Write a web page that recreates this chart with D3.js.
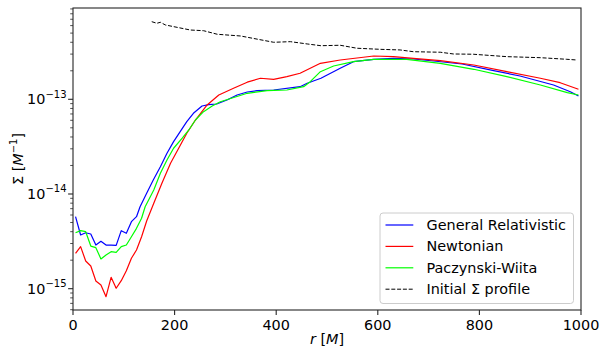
<!DOCTYPE html>
<html>
<head>
<meta charset="utf-8">
<script src="https://cdnjs.cloudflare.com/ajax/libs/d3/7.8.5/d3.min.js"></script>
<style>
  body { margin: 0; background: #fff; }
  svg { font-family: "DejaVu Sans", sans-serif; }
</style>
</head>
<body>
<svg id="chart" width="600" height="350"></svg>
<script>
// ####################################################################################
// Data
const rGR = [5,15,25,35,45,55,65,75,85,95,105,115,125,132,145,158,172,185,198,211,224,237,254,267,283,303,323,343,362,395,447,461,488,526,552,592,631,670,710,766,828,880,946,979,995];
const sigmaGR = [5.76e-15,3.69e-15,3.90e-15,3.78e-15,2.89e-15,3.17e-15,2.89e-15,2.88e-15,2.87e-15,4.10e-15,3.85e-15,5.10e-15,5.76e-15,7.34e-15,1.017e-14,1.405e-14,1.94e-14,2.69e-14,3.57e-14,4.55e-14,5.80e-14,7.12e-14,8.50e-14,8.77e-14,8.92e-14,9.83e-14,1.110e-13,1.194e-13,1.233e-13,1.254e-13,1.359e-13,1.476e-13,1.667e-13,2.126e-13,2.495e-13,2.645e-13,2.71e-13,2.665e-13,2.537e-13,2.36e-13,2.005e-13,1.762e-13,1.416e-13,1.203e-13,1.083e-13];

const rN = [5,15,25,35,45,55,65,75,85,95,105,115,125,135,145,159,175,192,208,224,241,264,287,316,343,369,395,421,447,487,526,592,631,670,723,789,854,920,959,995];
const sigmaN = [2.365e-15,2.78e-15,1.96e-15,1.736e-15,1.206e-15,1.094e-15,0.823e-15,1.319e-15,1.01e-15,1.215e-15,1.549e-15,2.094e-15,2.56e-15,3.54e-15,5.19e-15,7.98e-15,1.297e-14,2.11e-14,3.04e-14,4.38e-14,6.04e-14,8.71e-14,1.110e-13,1.307e-13,1.516e-13,1.667e-13,1.626e-13,1.733e-13,1.882e-13,2.40e-13,2.60e-13,2.865e-13,2.817e-13,2.71e-13,2.556e-13,2.302e-13,1.957e-13,1.667e-13,1.497e-13,1.275e-13];

const rPW = [5,15,25,35,45,55,65,75,85,95,105,115,125,135,142,159,172,185,198,215,228,241,257,274,290,343,382,421,454,467,487,513,552,592,657,723,789,854,920,973,995];
const sigmaPW = [3.90e-15,4.10e-15,4.00e-15,2.82e-15,2.71e-15,2.06e-15,2.27e-15,2.46e-15,2.42e-15,2.78e-15,2.89e-15,3.54e-15,4.34e-15,5.54e-15,7.34e-15,1.102e-14,1.654e-14,2.286e-14,3.04e-14,3.88e-14,4.74e-14,6.04e-14,7.40e-14,8.50e-14,9.43e-14,1.157e-13,1.233e-13,1.254e-13,1.359e-13,1.534e-13,1.957e-13,2.247e-13,2.495e-13,2.645e-13,2.645e-13,2.40e-13,2.074e-13,1.733e-13,1.416e-13,1.174e-13,1.110e-13];

const rInit = [155,165,172,182,231,257,284,330,395,428,461,488,526,559,605,644,670,723,749,788,854,920,972,992];
const sigmaInit = [6.60e-13,6.35e-13,6.50e-13,6.09e-13,5.39e-13,5.30e-13,4.86e-13,4.66e-13,4.00e-13,4.06e-13,3.84e-13,3.68e-13,3.72e-13,3.46e-13,3.37e-13,3.32e-13,3.18e-13,3.14e-13,3.01e-13,2.99e-13,2.82e-13,2.75e-13,2.645e-13,2.60e-13];

const xTicks = [0,200,400,600,800,1000];
const yTickExp = [-15,-14,-13];

const seriesNames = ["General Relativistic","Newtonian","Paczynski-Wiita","Initial \u03a3 profile"];
const seriesColors = ["#0000ff","#ff0000","#00ff00","#000000"];

// ####################################################################################
// Layout
const chartDim = {left: 73, top: 8, width: 508, height: 302};
const fs = 14.4;
const fsSup = 10;

const svg = d3.select("#chart");
const g = svg.append("g").attr("transform", `translate(${chartDim.left},${chartDim.top})`);

const xScale = d3.scaleLinear().domain([0,1000]).range([0, chartDim.width]);
const yScale = d3.scaleLog().domain([Math.pow(10,-15.225), Math.pow(10,-12.036)]).range([chartDim.height, 0]);

// clip for lines
svg.append("defs").append("clipPath").attr("id","clip")
  .append("rect").attr("width", chartDim.width).attr("height", chartDim.height);

// ####################################################################################
// Lines
const line = d3.line().x(d => xScale(d[0])).y(d => yScale(d[1]));
const zipSeries = (rs, vs) => rs.map((r,i) => [r, vs[i]]);

const seriesData = [
  zipSeries(rGR, sigmaGR),
  zipSeries(rN, sigmaN),
  zipSeries(rPW, sigmaPW),
  zipSeries(rInit, sigmaInit)
];

const lines = g.append("g").attr("clip-path","url(#clip)");
seriesData.forEach((s,i) => {
  lines.append("path")
    .datum(s)
    .attr("d", line)
    .attr("fill","none")
    .attr("stroke", seriesColors[i])
    .attr("stroke-width", i === 3 ? 1.0 : 1.2)
    .attr("stroke-dasharray", i === 3 ? "4,1.8" : null)
    .attr("stroke-linejoin","round");
});

// ####################################################################################
// Axes
const spineColor = "#262626";

// x ticks
const xAx = g.append("g").attr("transform", `translate(0,${chartDim.height})`);
xTicks.forEach(t => {
  xAx.append("line").attr("x1", xScale(t)).attr("x2", xScale(t)).attr("y1",0).attr("y2",4.9)
    .attr("stroke", spineColor).attr("stroke-width",1.1);
  xAx.append("text").attr("x", xScale(t)).attr("y", 4.9 + 4.5 + 11)
    .attr("text-anchor","middle").style("font-size", fs + "px").attr("fill","#000").text(t);
});

// y major ticks
const yAx = g.append("g");
yTickExp.forEach(e => {
  const y = yScale(Math.pow(10,e));
  yAx.append("line").attr("x1",-4.9).attr("x2",0).attr("y1",y).attr("y2",y)
    .attr("stroke", spineColor).attr("stroke-width",1.1);
  const txt = yAx.append("text").attr("x",-6.5).attr("y", y + 5.2)
    .attr("text-anchor","end").style("font-size", fs + "px").attr("fill","#000");
  txt.append("tspan").text("10");
  txt.append("tspan").attr("dy",-6.8).style("font-size", fsSup + "px").text("\u2212" + Math.abs(e));
});

// y minor ticks
[-16,-15,-14,-13,-12].forEach(e => {
  d3.range(2,10).forEach(m => {
    const v = m * Math.pow(10,e);
    if (v < yScale.domain()[0] || v > yScale.domain()[1]) return;
    const y = yScale(v);
    yAx.append("line").attr("x1",-2.8).attr("x2",0).attr("y1",y).attr("y2",y)
      .attr("stroke", spineColor).attr("stroke-width",0.8);
  });
});

// frame
g.append("rect").attr("width", chartDim.width).attr("height", chartDim.height)
  .attr("fill","none").attr("stroke", spineColor).attr("stroke-width",1.1);

// axis labels
const xLab = svg.append("text")
  .attr("x", chartDim.left + chartDim.width/2).attr("y", 344)
  .attr("text-anchor","middle").style("font-size", fs + "px");
xLab.append("tspan").style("font-style","italic").text("r");
xLab.append("tspan").text(" [");
xLab.append("tspan").style("font-style","italic").text("M");
xLab.append("tspan").text("]");

const yLab = svg.append("text")
  .attr("transform", `translate(23,${chartDim.top + chartDim.height/2}) rotate(-90)`)
  .attr("text-anchor","middle").style("font-size", fs + "px");
yLab.append("tspan").text("\u03a3 [");
yLab.append("tspan").style("font-style","italic").text("M");
yLab.append("tspan").attr("dy",-6).style("font-size", fsSup + "px").text("\u22121");
yLab.append("tspan").attr("dy",6).text("]");

// ####################################################################################
// Legend
const leg = svg.append("g").attr("transform","translate(380,213)");
leg.append("rect").attr("width",193.5).attr("height",90.5).attr("rx",3)
  .attr("fill","#fff").attr("fill-opacity",0.8).attr("stroke","#cccccc").attr("stroke-width",1);
seriesNames.forEach((n,i) => {
  const yy = 12 + i * 21.4;
  leg.append("line").attr("x1",5.5).attr("x2",33.3).attr("y1",yy).attr("y2",yy)
    .attr("stroke", seriesColors[i]).attr("stroke-width", i === 3 ? 1.0 : 1.2)
    .attr("stroke-dasharray", i === 3 ? "4,1.8" : null);
  leg.append("text").attr("x",46.5).attr("y", yy + 5)
    .style("font-size", fs + "px").attr("fill","#000").text(n);
});
</script>
</body>
</html>
